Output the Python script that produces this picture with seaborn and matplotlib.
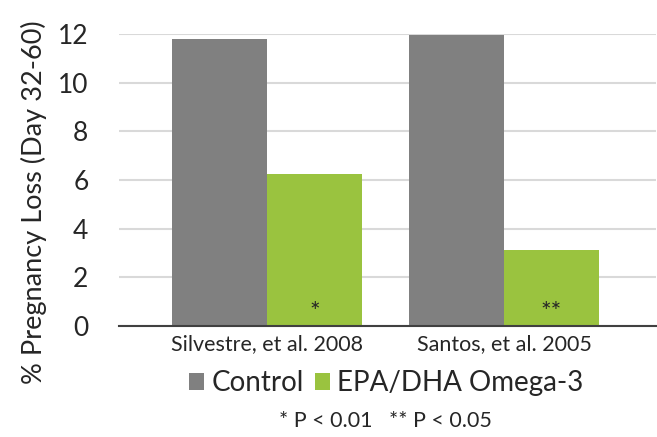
import pandas as pd
import matplotlib.pyplot as plt
import seaborn as sns

# valores
estudos = ['Silvestre, et al. 2008', 'Santos, et al. 2005']
controle = [11.8, 11.95]
omega3 = [6.25, 3.12]
significancia = ['*', '**']
grupos = ['Control', 'EPA/DHA Omega-3']
cores = ['#808080', '#9AC33F']

df = pd.DataFrame({
    'Estudo': estudos * 2,
    'Grupo': [grupos[0]] * 2 + [grupos[1]] * 2,
    'Perda': controle + omega3,
})

sns.set_style('white')
plt.rcParams['font.family'] = ['Lato', 'DejaVu Sans']
cor_texto = '#262626'

fig = plt.figure(figsize=(6.57, 4.37), dpi=100)
ax = fig.add_axes([119 / 657, 1 - 326 / 437, 537 / 657, 292 / 437])

sns.barplot(data=df, x='Estudo', y='Perda', hue='Grupo', hue_order=grupos,
            palette=cores, width=0.8, saturation=1, linewidth=0, ax=ax, zorder=3)

ax.set_ylim(0, 12)
ax.set_xlim(-0.624, 1.641)
ax.set_yticks(range(0, 13, 2))
ax.yaxis.grid(True, color='#D9D9D9', linewidth=1.5, zorder=0)
ax.set_axisbelow(True)
for lado in ['top', 'right', 'left']:
    ax.spines[lado].set_visible(False)
ax.spines['bottom'].set_color('#404040')
ax.spines['bottom'].set_linewidth(1.5)
ax.spines['bottom'].set_zorder(4)
ax.tick_params(axis='y', labelsize=19, colors=cor_texto, length=0, pad=22)
ax.tick_params(axis='x', labelsize=15.5, colors=cor_texto, length=0, pad=6)
ax.set_xlabel('')
ax.set_ylabel('% Pregnancy Loss (Day 32-60)', fontsize=19.5, color=cor_texto)
ax.yaxis.set_label_coords(-0.135, 0.425)

# asteriscos de significância nas barras do ômega-3
for i, s in enumerate(significancia):
    ax.text(i + 0.2, 0.1, s, ha='center', va='bottom', fontsize=18, color=cor_texto, zorder=5)

handles, labels = ax.get_legend_handles_labels()
ax.get_legend().remove()
fig.legend(handles, labels, loc='center', bbox_to_anchor=(386 / 657, 1 - 383 / 437),
           ncol=2, frameon=False, fontsize=20, handlelength=0.55, handleheight=0.55,
           handletextpad=0.25, columnspacing=0.4, labelcolor=cor_texto)

fig.text(385 / 657, 1 - 421 / 437, '* P < 0.01   ** P < 0.05', ha='center', va='center',
         fontsize=15.5, color=cor_texto)

plt.savefig('out.png', dpi=100)
